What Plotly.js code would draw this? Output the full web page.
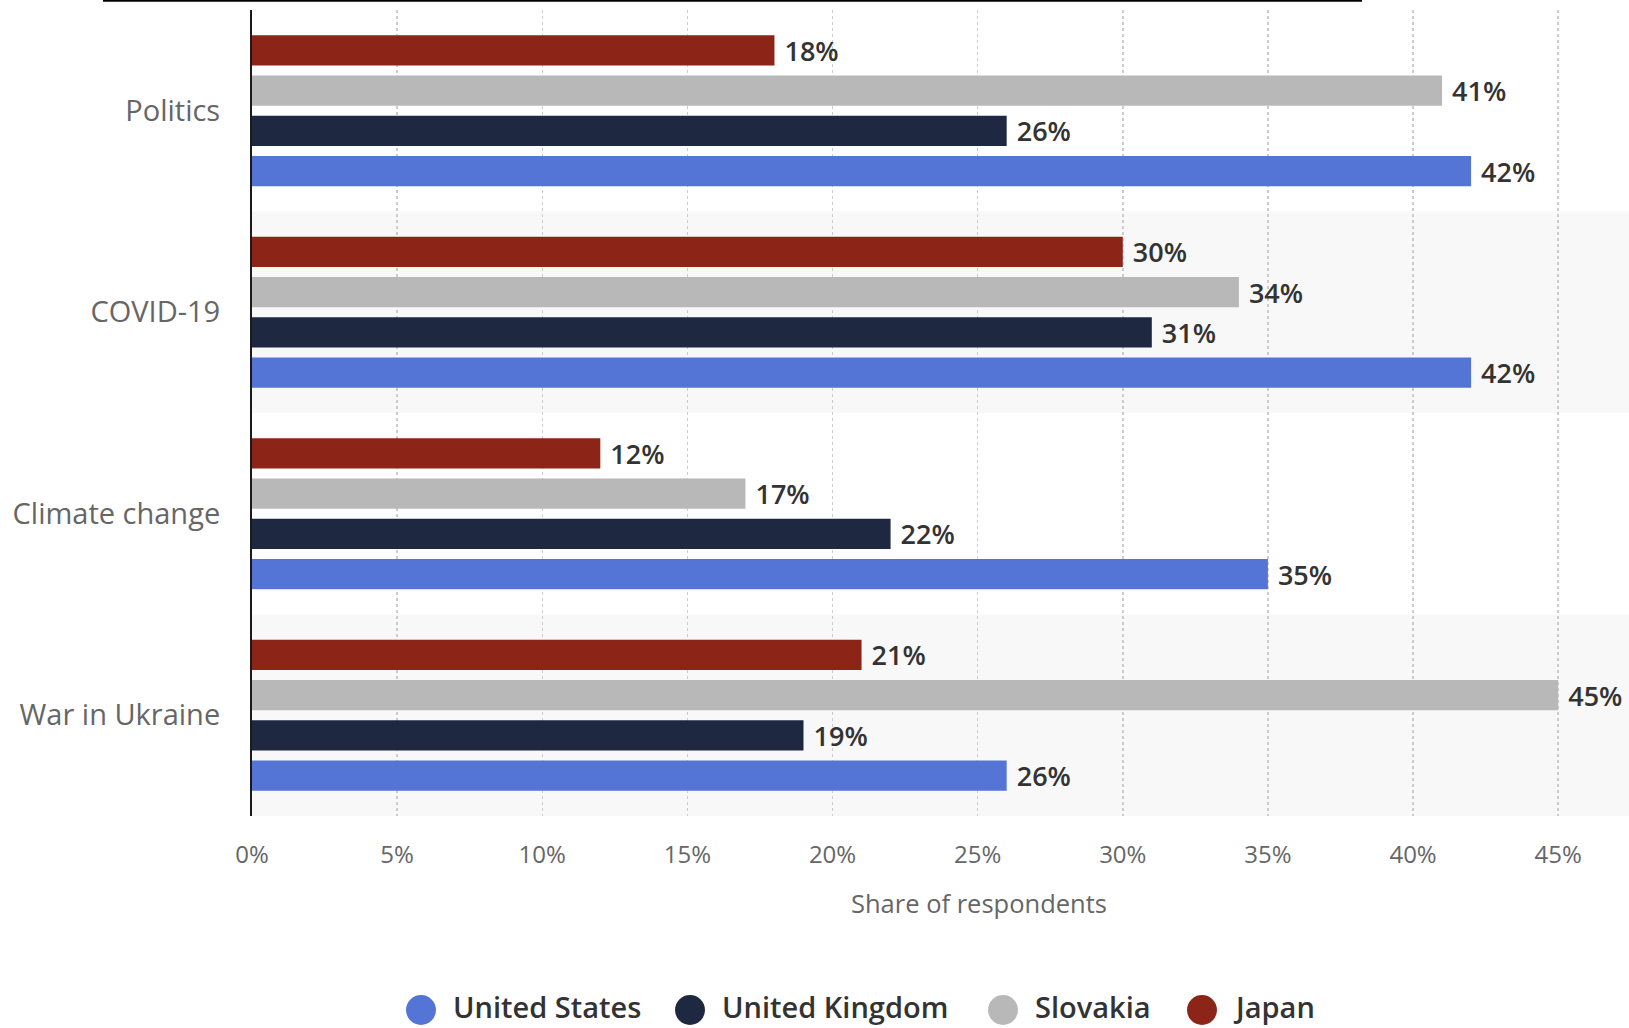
<!DOCTYPE html>
<html>
<head>
<meta charset="utf-8">
<script src="https://cdn.plot.ly/plotly-3.0.1.min.js"></script>
<style>html,body{margin:0;padding:0;background:#fff;overflow:hidden}</style>
</head>
<body>
<div id="chart" style="width:1629px;height:1028px"></div>
<script>
// Categories (top to bottom as shown)
const categories = ['Politics', 'COVID-19', 'Climate change', 'War in Ukraine'];
// Series values (share of respondents, %)
const unitedStates  = [42, 42, 35, 26];
const unitedKingdom = [26, 31, 22, 19];
const slovakia      = [41, 34, 17, 45];
const japan         = [18, 30, 12, 21];
const seriesNames   = ['United States', 'United Kingdom', 'Slovakia', 'Japan'];
const seriesColors  = ['#5475d6', '#1e2941', '#b8b8b8', '#8d2418'];
const xTicks        = [0, 5, 10, 15, 20, 25, 30, 35, 40, 45];
const xTitle        = 'Share of respondents';

const seriesValues = [unitedStates, unitedKingdom, slovakia, japan];
const FONT = 'Open Sans, Noto Sans, sans-serif';

const W = 1629, H = 1028;
const M = {l: 252, r: 0, t: 10, b: 212};
const plotW = W - M.l - M.r, plotH = H - M.t - M.b;
const px2x = px => (px - M.l) / plotW;
const px2y = py => (H - M.b - py) / plotH;

const traces = seriesValues.map((vals, i) => ({
  type: 'bar',
  orientation: 'h',
  name: seriesNames[i],
  y: categories,
  x: vals,
  marker: {color: seriesColors[i]},
  text: vals.map(v => '\u00a0' + v + '%'),
  texttemplate: '%{text}',
  textposition: 'outside',
  constraintext: 'none',
  cliponaxis: false,
  textfont: {family: FONT, size: 27, color: '#333333', weight: 600},
  hoverinfo: 'skip',
  showlegend: false
}));

const order = categories.slice().reverse();
const shapes = [];
categories.forEach((c, k) => {
  if (k % 2 === 1) {
    const idx = order.indexOf(c);
    shapes.push({type: 'rect', xref: 'paper', yref: 'y', x0: 0, x1: 1,
      y0: idx - 0.5, y1: idx + 0.5, fillcolor: '#f8f8f8', line: {width: 0}, layer: 'below'});
  }
});
// thin rule at the very top of the picture
shapes.push({type: 'line', xref: 'paper', yref: 'paper', x0: px2x(103), x1: px2x(1362),
  y0: px2y(0.8), y1: px2y(0.8), line: {color: '#000', width: 2}});

// custom legend (large round swatches)
const legendSwatchX = [421, 690, 1003, 1202];
const legendTextX   = [452, 721, 1034, 1232];
const legendY = 1010;
const annotations = [
  {text: xTitle, xref: 'paper', yref: 'paper', x: px2x(979), y: px2y(903),
   xanchor: 'center', yanchor: 'middle', showarrow: false,
   font: {family: FONT, size: 25.5, color: '#666666'}}
];
seriesNames.forEach((n, i) => {
  shapes.push({type: 'circle', xref: 'paper', yref: 'paper',
    xsizemode: 'pixel', ysizemode: 'pixel',
    xanchor: px2x(legendSwatchX[i]), yanchor: px2y(legendY),
    x0: -15, x1: 15, y0: -15, y1: 15,
    fillcolor: seriesColors[i], line: {width: 0}});
  annotations.push({text: n, xref: 'paper', yref: 'paper',
    x: px2x(legendTextX[i]), y: px2y(1027), xanchor: 'left', yanchor: 'bottom',
    borderpad: 0, showarrow: false,
    font: {family: FONT, size: 29, color: '#333333', weight: 600}});
});

const layout = {
  width: W, height: H,
  margin: {l: M.l, r: M.r, t: M.t, b: M.b, pad: 0},
  paper_bgcolor: '#ffffff', plot_bgcolor: '#ffffff',
  barmode: 'group', bargap: 0.2, bargroupgap: 0.25,
  showlegend: false,
  xaxis: {
    range: [0, 47.44], tickvals: xTicks, ticktext: xTicks.map(v => v + '%'),
    showgrid: true, gridcolor: '#cccccc', gridwidth: 1.5, griddash: 'dot',
    zeroline: false, showline: false, ticks: '', ticklabelstandoff: 22,
    tickfont: {family: FONT, size: 24, color: '#666666'}, fixedrange: true
  },
  yaxis: {
    type: 'category', categoryorder: 'array', categoryarray: order,
    showgrid: false, zeroline: false, showline: true, linecolor: '#1a1a1a', linewidth: 2,
    ticks: '', ticklabelstandoff: 24,
    tickfont: {family: FONT, size: 29, color: '#666666'}, fixedrange: true
  },
  shapes: shapes,
  annotations: annotations
};

Plotly.newPlot('chart', traces, layout, {displayModeBar: false, staticPlot: true});
</script>
</body>
</html>
